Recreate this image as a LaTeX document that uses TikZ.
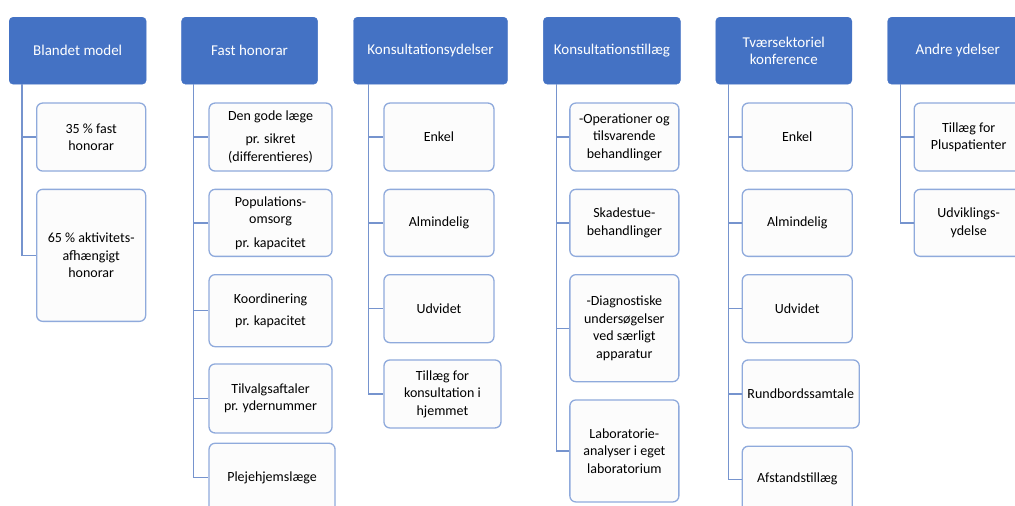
\documentclass[tikz,border=0pt]{standalone}
\usepackage{fontspec}
\setmainfont{Carlito}
\usetikzlibrary{positioning}
\definecolor{hdrblue}{RGB}{68,114,196}
\definecolor{leafblue}{RGB}{143,170,220}
\definecolor{linkblue}{RGB}{118,148,206}
\definecolor{leaffill}{RGB}{252,252,252}

\begin{document}
\begin{tikzpicture}[x=1pt,y=1pt,
    hdr/.style={draw=hdrblue,fill=hdrblue,text=white,rounded corners=4pt,
      minimum width=137pt,minimum height=67pt,inner sep=2pt,align=center,
      font=\fontsize{15}{17}\selectfont},
    leaf/.style={draw=leafblue,fill=leaffill,line width=1.3pt,rounded corners=6pt,
      minimum width=109pt,minimum height=68pt,inner sep=2pt,align=center,
      font=\fontsize{14}{17.5}\selectfont},
    link/.style={draw=linkblue,line width=1.3pt},
    nxt/.style={below=17pt of #1.south west,anchor=north west}]
    \useasboundingbox (0,0) rectangle (1015,-506);
    \fill[white] (0,0) rectangle (1015,-506);
    \clip (0,0) rectangle (1015,-506);

    \node[hdr,anchor=north west] (h1) at (9,-17) {Blandet model};
    \node[hdr,minimum width=136pt,right=35pt of h1] (h2) {Fast honorar};
    \node[hdr,minimum width=154pt,right=35.5pt of h2] (h3) {Konsultationsydelser};
    \node[hdr,right=35.5pt of h3] (h4) {Konsultationstillæg};
    \node[hdr,minimum width=136pt,right=35pt of h4] (h5) {Tværsektoriel\\konference};
    \node[hdr,minimum width=140pt,right=35.5pt of h5] (h6) {Andre ydelser};

    \node[leaf,below right=18pt and 27pt of h1.south west] (c11) {35 \% fast\\honorar};
    \node[leaf,minimum height=132pt,nxt=c11] (c12) {65 \% aktivitets-\\afhængigt\\honorar};

    \node[leaf,minimum width=123pt,below right=18pt and 27pt of h2.south west] (c21)
        {Den gode læge\\[6pt]pr. sikret\\(differentieres)};
    \node[leaf,minimum width=123pt,minimum height=67pt,nxt=c21] (c22)
        {Populations-\\omsorg\\[6pt]pr. kapacitet};
    \node[leaf,minimum width=123pt,minimum height=72pt,nxt=c22] (c23)
        {Koordinering\\[5pt]pr. kapacitet};
    \node[leaf,minimum width=123pt,minimum height=69pt,below=16pt of c23.south west,
        anchor=north west] (c24) {Tilvalgsaftaler\\pr. ydernummer};
    \node[leaf,minimum width=126pt,minimum height=69pt,below=9pt of c24.south west,
        anchor=north west] (c25) {Plejehjemslæge};

    \node[leaf,minimum width=110pt,below right=18pt and 30pt of h3.south west] (c31) {Enkel};
    \node[leaf,minimum width=110pt,minimum height=67pt,nxt=c31] (c32) {Almindelig};
    \node[leaf,minimum width=110pt,nxt=c32] (c33) {Udvidet};
    \node[leaf,minimum width=117pt,below=16pt of c33.south west,anchor=north west] (c34)
        {Tillæg for\\konsultation i\\hjemmet};

    \node[leaf,below right=18pt and 26pt of h4.south west] (c41)
        {-Operationer og\\tilsvarende\\behandlinger};
    \node[leaf,minimum height=67pt,nxt=c41] (c42) {Skadestue-\\behandlinger};
    \node[leaf,minimum height=107pt,nxt=c42] (c43)
        {-Diagnostiske\\undersøgelser\\ved særligt\\apparatur};
    \node[leaf,minimum height=102pt,nxt=c43] (c44)
        {Laboratorie-\\analyser i eget\\laboratorium};

    \node[leaf,minimum width=110pt,below right=18pt and 26pt of h5.south west] (c51) {Enkel};
    \node[leaf,minimum width=110pt,minimum height=67pt,nxt=c51] (c52) {Almindelig};
    \node[leaf,minimum width=110pt,nxt=c52] (c53) {Udvidet};
    \node[leaf,minimum width=117pt,below=16pt of c53.south west,anchor=north west] (c54)
        {Rundbordssamtale};
    \node[leaf,minimum width=110pt,minimum height=66pt,nxt=c54] (c55) {Afstandstillæg};

    \node[leaf,below right=18pt and 26pt of h6.south west] (c61)
        {Tillæg for\\Pluspatienter};
    \node[leaf,minimum height=67pt,nxt=c61] (c62) {Udviklings-\\ydelse};

    \coordinate (t1) at ([xshift=13pt]h1.south west);
    \coordinate (t2) at ([xshift=12pt]h2.south west);
    \coordinate (t3) at ([xshift=15pt]h3.south west);
    \coordinate (t4) at ([xshift=13pt]h4.south west);
    \coordinate (t5) at ([xshift=13pt]h5.south west);
    \coordinate (t6) at ([xshift=13pt]h6.south west);
    \foreach \c in {c11,c12} \draw[link] (t1) |- (\c.west);
    \foreach \c in {c21,c22,c23,c24,c25} \draw[link] (t2) |- (\c.west);
    \foreach \c in {c31,c32,c33,c34} \draw[link] (t3) |- (\c.west);
    \foreach \c in {c41,c42,c43,c44} \draw[link] (t4) |- (\c.west);
    \foreach \c in {c51,c52,c53,c54,c55} \draw[link] (t5) |- (\c.west);
    \foreach \c in {c61,c62} \draw[link] (t6) |- (\c.west);
\end{tikzpicture}
\end{document}
